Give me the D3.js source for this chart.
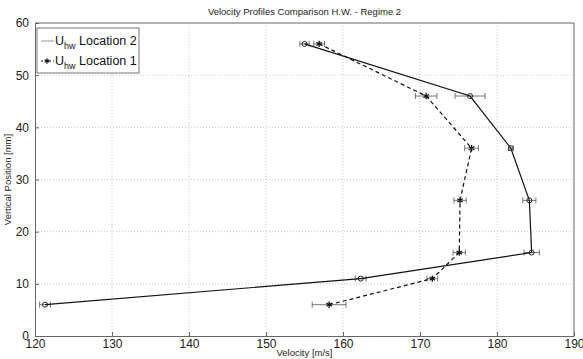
<!DOCTYPE html>
<html>
<head>
<meta charset="utf-8">
<script src="https://cdn.jsdelivr.net/npm/d3@7"></script>
<style>
  body { margin: 0; background: #fff; }
  text { font-family: "Liberation Sans", Arial, sans-serif; }
</style>
</head>
<body>
<div class="chart"></div>
<script>
var positions = [6, 11, 16, 26, 36, 46, 56];
var loc2Vel = [121.3, 162.3, 184.5, 184.2, 181.8, 176.5, 155.0];
var loc2Err = [0.7, 0.7, 1.0, 0.85, 0.3, 1.95, 0.6];
var loc1Vel = [158.2, 171.6, 175.1, 175.2, 176.7, 170.8, 156.9];
var loc1Err = [2.2, 0.7, 0.8, 0.8, 0.9, 1.4, 0.7];
var xTicks = [120, 130, 140, 150, 160, 170, 180, 190];
var yTicks = [0, 10, 20, 30, 40, 50, 60];

var width = 583, height = 359;
var margin = { top: 23, right: 9, bottom: 23, left: 35 };
var w = width - margin.left - margin.right,
  h = height - margin.top - margin.bottom;

var svg = d3.select(".chart")
  .append("svg")
  .attr("width", width)
  .attr("height", height);

var g = svg.append("g")
  .attr("transform", "translate(" + margin.left + "," + margin.top + ")");

var x = d3.scaleLinear().domain([120, 190]).range([0, w]);
var y = d3.scaleLinear().domain([0, 60]).range([h, 0]);

// grid
g.append("g").selectAll("line.gx")
  .data(xTicks.slice(1, -1))
  .enter().append("line")
  .attr("x1", d => x(d)).attr("x2", d => x(d))
  .attr("y1", 0).attr("y2", h)
  .attr("stroke", "#bbb").attr("stroke-width", 0.8)
  .attr("stroke-dasharray", "1,2");
g.append("g").selectAll("line.gy")
  .data(yTicks.slice(1, -1))
  .enter().append("line")
  .attr("x1", 0).attr("x2", w)
  .attr("y1", d => y(d)).attr("y2", d => y(d))
  .attr("stroke", "#bbb").attr("stroke-width", 0.8)
  .attr("stroke-dasharray", "1,2");

// axes (matlab style: ticks inside, box)
var axisColor = "#666";
var xAxis = g.append("g")
  .attr("transform", "translate(0," + h + ")")
  .call(d3.axisBottom(x).tickValues(xTicks).tickSizeInner(-4).tickSizeOuter(0).tickPadding(6));
var yAxis = g.append("g")
  .call(d3.axisLeft(y).tickValues(yTicks).tickSizeInner(-4).tickSizeOuter(0).tickPadding(6));
[xAxis, yAxis].forEach(function (a) {
  a.select(".domain").attr("stroke", axisColor);
  a.selectAll(".tick line").attr("stroke", axisColor);
  a.selectAll(".tick text").attr("fill", "#222").style("font-size", "12px")
    .style("font-family", "'Liberation Sans', Arial, sans-serif");
});
xAxis.selectAll(".tick text").attr("dy", "0.5em");
g.append("line").attr("x1", 0).attr("x2", w).attr("y1", 0).attr("y2", 0).attr("stroke", axisColor);
g.append("line").attr("x1", w).attr("x2", w).attr("y1", 0).attr("y2", h).attr("stroke", axisColor);

// titles
svg.append("text")
  .attr("x", margin.left + w / 2).attr("y", 15)
  .attr("text-anchor", "middle").style("font-size", "9.5px").attr("fill", "#222")
  .text("Velocity Profiles Comparison H.W. - Regime 2");
svg.append("text")
  .attr("x", margin.left + w / 2).attr("y", 356)
  .attr("text-anchor", "middle").style("font-size", "9.5px").attr("fill", "#222")
  .text("Velocity [m/s]");
svg.append("text")
  .attr("transform", "translate(11," + (margin.top + h / 2) + ") rotate(-90)")
  .attr("text-anchor", "middle").style("font-size", "9.5px").attr("fill", "#222")
  .text("Vertical Position [mm]");

function series(vel, err) {
  return positions.map(function (p, i) { return { v: vel[i], e: err[i], p: p }; });
}
var loc2 = series(loc2Vel, loc2Err);
var loc1 = series(loc1Vel, loc1Err);

var line = d3.line().x(d => x(d.v)).y(d => y(d.p));

function errorBars(data) {
  var eb = g.append("g").attr("stroke", "#555").attr("stroke-width", 0.8).attr("fill", "none");
  eb.selectAll("line.bar").data(data).enter().append("line")
    .attr("x1", d => x(d.v - d.e)).attr("x2", d => x(d.v + d.e))
    .attr("y1", d => y(d.p)).attr("y2", d => y(d.p));
  eb.selectAll("line.capl").data(data).enter().append("line")
    .attr("x1", d => x(d.v - d.e)).attr("x2", d => x(d.v - d.e))
    .attr("y1", d => y(d.p) - 3).attr("y2", d => y(d.p) + 3);
  eb.selectAll("line.capr").data(data).enter().append("line")
    .attr("x1", d => x(d.v + d.e)).attr("x2", d => x(d.v + d.e))
    .attr("y1", d => y(d.p) - 3).attr("y2", d => y(d.p) + 3);
}
errorBars(loc2);
errorBars(loc1);

g.append("path").datum(loc2).attr("d", line)
  .attr("fill", "none").attr("stroke", "#111").attr("stroke-width", 1.2);
g.append("path").datum(loc1).attr("d", line)
  .attr("fill", "none").attr("stroke", "#111").attr("stroke-width", 1.2)
  .attr("stroke-dasharray", "4,3");

g.append("g").selectAll("circle").data(loc2).enter().append("circle")
  .attr("cx", d => x(d.v)).attr("cy", d => y(d.p)).attr("r", 2.5)
  .attr("fill", "none").attr("stroke", "#222").attr("stroke-width", 1);

var star = d3.symbol(d3.symbolAsterisk, 28);
g.append("g").selectAll("path.star").data(loc1).enter().append("path")
  .attr("transform", d => "translate(" + x(d.v) + "," + y(d.p) + ")")
  .attr("d", star).attr("fill", "none").attr("stroke", "#111").attr("stroke-width", 1.3);

// legend
var lg = svg.append("g").attr("transform", "translate(37,28)");
lg.append("rect").attr("width", 102).attr("height", 45)
  .attr("fill", "#fff").attr("stroke", "#777").attr("stroke-width", 1);
var items = [
  { name: "Location 2", dash: null, marker: false },
  { name: "Location 1", dash: "2,2", marker: true }
];
items.forEach(function (it, i) {
  var yy = 13 + i * 20;
  lg.append("line").attr("x1", 4).attr("x2", 17).attr("y1", yy).attr("y2", yy)
    .attr("stroke", it.marker ? "#111" : "#999").attr("stroke-width", 1)
    .attr("stroke-dasharray", it.dash);
  if (it.marker) {
    lg.append("path").attr("transform", "translate(10," + yy + ")")
      .attr("d", d3.symbol(d3.symbolAsterisk, 20)).attr("stroke", "#111").attr("stroke-width", 1.2);
  }
  var t = lg.append("text").attr("x", 18).attr("y", yy + 4)
    .style("font-size", "12.5px").attr("fill", "#111");
  t.append("tspan").text("U");
  t.append("tspan").attr("dy", 4).style("font-size", "9px").text("hw");
  t.append("tspan").attr("dy", -4).text(" " + it.name);
});
</script>
</body>
</html>
